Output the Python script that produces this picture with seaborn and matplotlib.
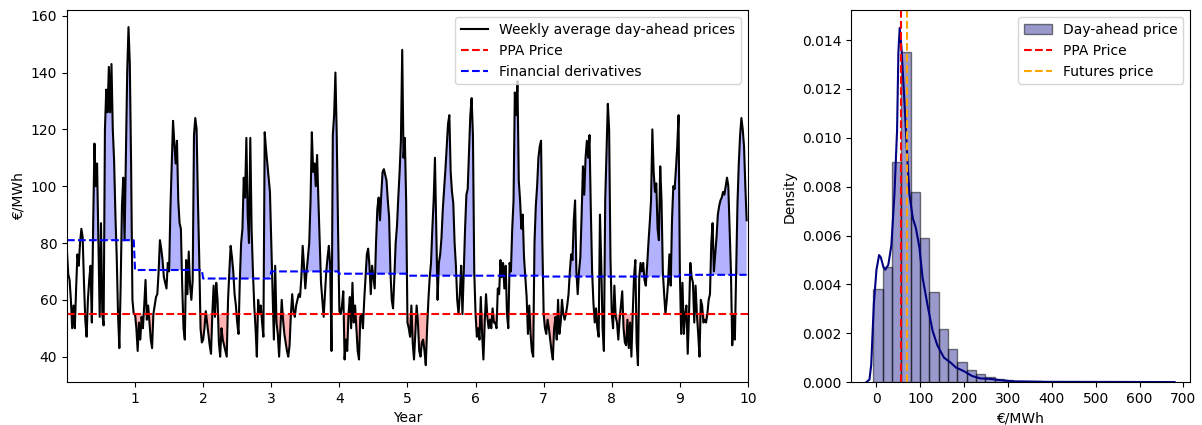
import numpy as np
import pandas as pd
import matplotlib
matplotlib.use("Agg")
import matplotlib.pyplot as plt
import seaborn as sns

# Weekly average day-ahead prices (EUR/MWh), one list of 52 weeks per year
year0 = [77, 69, 67, 60, 50, 58, 50, 64, 76, 72, 80, 85, 82, 66, 53, 47, 60, 67, 72, 52,
         86, 115, 100, 108, 80, 54, 87, 55, 51, 120, 134, 126, 142, 126, 143, 120, 109, 90, 75, 55,
         43, 65, 93, 103, 81, 110, 140, 156, 143, 107, 60, 55]
year1 = [55, 50, 42, 52, 46, 54, 50, 58, 67, 53, 58, 52, 46, 43, 55, 58, 61, 62, 70, 81,
         78, 74, 68, 66, 64, 73, 70, 92, 108, 123, 115, 108, 116, 95, 87, 85, 65, 50, 46, 74,
         62, 77, 65, 60, 67, 118, 124, 120, 95, 75, 50, 45]
year2 = [46, 50, 56, 52, 48, 44, 41, 55, 65, 54, 66, 60, 45, 40, 50, 46, 44, 42, 40, 60,
         70, 79, 75, 70, 62, 58, 52, 48, 67, 80, 85, 103, 96, 117, 90, 80, 117, 85, 70, 58,
         50, 40, 60, 55, 58, 52, 47, 119, 113, 108, 103, 98]
year3 = [80, 63, 46, 72, 52, 48, 40, 50, 60, 53, 48, 45, 42, 40, 44, 55, 62, 56, 54, 58,
         60, 62, 61, 68, 79, 72, 64, 70, 75, 80, 95, 119, 105, 108, 100, 111, 95, 81, 66, 60,
         54, 62, 70, 75, 79, 72, 42, 118, 125, 140, 118, 85]
year4 = [56, 55, 58, 63, 39, 46, 42, 55, 61, 50, 66, 52, 58, 50, 42, 39, 54, 55, 50, 60,
         68, 76, 78, 72, 62, 72, 68, 64, 80, 92, 96, 88, 97, 105, 106, 104, 102, 95, 89, 70,
         60, 57, 68, 80, 86, 96, 105, 116, 148, 110, 117, 95]
year5 = [52, 50, 47, 58, 45, 39, 48, 58, 52, 42, 40, 45, 46, 42, 37, 50, 60, 68, 73, 85,
         95, 110, 85, 60, 73, 76, 82, 92, 99, 106, 114, 122, 125, 105, 98, 94, 80, 72, 60, 55,
         62, 72, 55, 70, 85, 97, 99, 112, 125, 131, 118, 70]
year6 = [55, 47, 50, 46, 61, 48, 39, 52, 62, 54, 50, 53, 50, 57, 52, 52, 50, 64, 62, 74,
         68, 73, 64, 72, 55, 50, 73, 70, 85, 95, 133, 125, 137, 102, 95, 85, 90, 75, 68, 61,
         48, 58, 48, 42, 40, 80, 93, 100, 110, 114, 116, 80]
year7 = [55, 50, 48, 53, 50, 46, 42, 39, 50, 54, 46, 60, 48, 52, 60, 55, 53, 55, 58, 62,
         70, 76, 74, 88, 95, 70, 62, 70, 75, 90, 107, 97, 110, 116, 110, 118, 92, 70, 59, 52,
         57, 50, 47, 90, 72, 50, 42, 95, 112, 129, 120, 75]
year8 = [55, 50, 65, 54, 52, 46, 53, 58, 63, 50, 45, 44, 53, 43, 52, 40, 55, 68, 74, 45,
         37, 68, 73, 70, 73, 67, 65, 72, 80, 87, 95, 120, 105, 98, 101, 85, 81, 107, 95, 70,
         62, 55, 60, 66, 76, 65, 88, 100, 99, 106, 114, 125]
year9 = [70, 48, 66, 48, 55, 58, 41, 55, 73, 68, 66, 52, 65, 55, 48, 40, 60, 58, 52, 53,
         52, 55, 60, 62, 80, 87, 70, 76, 82, 90, 93, 95, 96, 98, 97, 100, 103, 100, 85, 70,
         44, 55, 46, 70, 94, 108, 118, 124, 120, 114, 100, 88]

# Yearly financial derivative (futures) prices and the fixed PPA price
derivative_prices = [81.0, 70.5, 67.5, 70.0, 69.2, 68.5, 68.5, 68.2, 68.2, 68.8]
ppa_price = 55.0
futures_price = 69.0

# Day-ahead price distribution: 30 histogram bins and the density curve
bin_start = -7.5
bin_width = 21.3
hist_density = [0.0038, 0.0047, 0.0090, 0.0135, 0.0078, 0.0059, 0.0037, 0.00216, 0.00134, 0.00082,
                0.00048, 0.00034, 0.00020, 0.00012, 0.00008, 0.00005, 0.00004, 0.00003, 0.00002, 0.00002,
                0.00001, 0.00001, 0.00001, 0.00001, 0.0, 0.00001, 0.0, 0.0, 0.0, 0.00001]
kde_price = [-23, -16, -12, -6, 0, 6, 10, 16, 20, 27, 34, 41, 47, 50, 53, 57, 64, 70, 75, 83,
             90, 98, 105, 117, 128, 139, 154, 169, 181, 199, 218, 237, 260, 282, 312, 388, 538, 680]
kde_density = [0.0, 0.0001, 0.0007, 0.0032, 0.0046, 0.0052, 0.0051, 0.0047, 0.0046, 0.0048,
               0.0056, 0.0077, 0.0103, 0.0135, 0.0145, 0.0137, 0.0114, 0.0093, 0.0077, 0.0067,
               0.0063, 0.0055, 0.0043, 0.0031, 0.0021, 0.0015, 0.0010, 0.0008, 0.0006, 0.00045,
               0.00025, 0.00015, 0.00013, 0.00008, 0.00003, 0.00001, 0.000005, 0.0]

prices = np.concatenate([year0, year1, year2, year3, year4, year5, year6, year7, year8, year9]).astype(float)
years = np.arange(len(prices)) / 52.0
derivatives = np.repeat(derivative_prices, 52)

edges = [bin_start + bin_width * i for i in range(len(hist_density) + 1)]
hist_df = pd.DataFrame({
    "price": [0.5 * (edges[i] + edges[i + 1]) for i in range(len(hist_density))],
    "density": hist_density,
})

fig, (ax, ax2) = plt.subplots(1, 2, figsize=(12.02, 4.25), dpi=100,
                              gridspec_kw={"width_ratios": [681, 339]})
fig.subplots_adjust(left=0.0557, right=0.990, bottom=0.101, top=0.976, wspace=0.202)

# Left: weekly prices against PPA and derivative prices
sns.lineplot(x=years, y=prices, color="black", linewidth=1.5,
             label="Weekly average day-ahead prices", ax=ax)
ax.axhline(ppa_price, color="red", linestyle="--", linewidth=1.5, label="PPA Price")
sns.lineplot(x=years, y=derivatives, color="blue", linestyle="--", linewidth=1.5,
             label="Financial derivatives", ax=ax)
ax.fill_between(years, prices, derivatives, where=prices > derivatives,
                interpolate=True, color="blue", alpha=0.3, linewidth=0)
ax.fill_between(years, prices, ppa_price, where=prices < ppa_price,
                interpolate=True, color="red", alpha=0.3, linewidth=0)
ax.set_xlim(0, 10)
ax.set_xticks(range(1, 11))
ax.set_xlabel("Year")
ax.set_ylabel("€/MWh")
ax.legend(loc="upper right")

# Right: distribution of day-ahead prices
sns.histplot(data=hist_df, x="price", weights="density", bins=edges, stat="count",
             color="navy", alpha=0.4, edgecolor=(0.0, 0.0, 0.0, 0.5), linewidth=1,
             label="Day-ahead price", ax=ax2)
sns.lineplot(x=kde_price, y=kde_density, color="navy", linewidth=1.5, ax=ax2)
ax2.axvline(ppa_price, color="red", linestyle="--", linewidth=1.5, label="PPA Price")
ax2.axvline(futures_price, color="orange", linestyle="--", linewidth=1.5, label="Futures price")
ax2.set_xlabel("€/MWh")
ax2.set_ylabel("Density")
handles, labels = ax2.get_legend_handles_labels()
order = ["Day-ahead price", "PPA Price", "Futures price"]
hl = dict(zip(labels, handles))
ax2.legend([hl[k] for k in order], order, loc="upper right")

fig.savefig("out.png", dpi=100)
